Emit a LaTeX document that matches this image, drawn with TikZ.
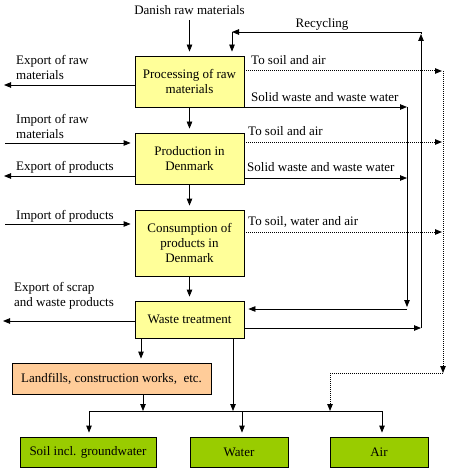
\documentclass[tikz,border=0pt]{standalone}
\usepackage{fontspec}
\setmainfont{Liberation Serif}
\usetikzlibrary{arrows.meta}
\definecolor{boxyellow}{RGB}{255,255,153}
\definecolor{boxpeach}{RGB}{255,204,153}
\definecolor{boxgreen}{RGB}{153,204,0}
\begin{document}
\begin{tikzpicture}[x=1pt,y=-1pt,
  every node/.style={font=\fontsize{13}{15}\selectfont, inner sep=0pt},
  ln/.style={line width=0.8pt},
  box/.style={draw, line width=0.8pt, align=center},
  ybox/.style={box, fill=boxyellow, minimum width=109pt},
  lbl/.style={anchor=west, align=left},
  arr/.style={ln, -{Triangle[length=7pt,width=5.5pt]}, shorten >=4pt},
  arrl/.style={ln, -{Triangle[length=7pt,width=5.5pt]}},
  dots/.style={line width=1pt, dash pattern=on 1pt off 1pt},
  darr/.style={dots, -{Triangle[length=7pt,width=5.5pt]}}
]
\useasboundingbox (0,0) rectangle (449,468);
% main boxes
\node[ybox, minimum height=51pt] (proc) at (189.5,81.5) {Processing of raw\\materials};
\node[ybox, minimum height=51pt] (prod) at (189.5,158.5) {Production in\\Denmark};
\node[ybox, minimum height=66pt] (cons) at (189.5,243) {Consumption of\\products in\\Denmark};
\node[ybox, minimum height=37pt] (wt) at (189.5,319.5) {Waste treatment};
\node[box, fill=boxpeach, minimum width=199pt, minimum height=31pt] (land) at (111.5,378.5) {Landfills, construction works,~~etc.};
\node[box, fill=boxgreen, minimum width=136pt, minimum height=30pt] (soil) at (88,452) {Soil incl. groundwater};
\node[box, fill=boxgreen, minimum width=98pt, minimum height=30pt] (water) at (239,452) {Water};
\node[box, fill=boxgreen, minimum width=98pt, minimum height=30pt] (air) at (379,452) {Air};
% labels
\node (dan) at (189.5,10) {Danish raw materials};
\node[lbl] (lexr) at (16,67) {Export of raw\\materials};
\node[lbl] (limr) at (16,126) {Import of raw\\materials};
\node[lbl] (lexp) at (16,167) {Export of products};
\node[lbl] (limp) at (16,216) {Import of products};
\node[lbl] (lexs) at (14,296) {Export of scrap\\and waste products};
\node (lrec) at (322,24) {Recycling};
\node[lbl] (lsa1) at (251,60) {To soil and air};
\node[lbl] (lsw1) at (251,97) {Solid waste and waste water};
\node[lbl] (lsa2) at (248,131) {To soil and air};
\node[lbl] (lsw2) at (247,167) {Solid waste and waste water};
\node[lbl] (lswa) at (248,222) {To soil, water and air};
% vertical main flow
\coordinate (dtop) at (189.5,20);
\draw[arr] (dtop) -- (proc);
\draw[arr] (proc) -- (prod);
\draw[arr] (prod) -- (cons);
\draw[arr] (cons) -- (wt);
% left side
\coordinate (e1) at (4,85);
\coordinate (i1) at (5,143);
\coordinate (e2) at (4,176);
\coordinate (i2) at (5,224);
\coordinate (e3) at (3,321);
\draw[arrl] (proc.west |- e1) -- (e1);
\draw[arr] (i1) -- (prod.west |- i1);
\draw[arrl] (prod.west |- e2) -- (e2);
\draw[arr] (i2) -- (cons.west |- i2);
\draw[arrl] (wt.west |- e3) -- (e3);
% dotted emissions
\coordinate (d1) at (442,71);
\coordinate (d2) at (442,142);
\coordinate (d3) at (442,232);
\coordinate (dc) at (443,373);
\coordinate (dd) at (330,373);
\draw[darr] (proc.east |- d1) -- (d1);
\draw[darr] (prod.east |- d2) -- (d2);
\draw[darr] (cons.east |- d3) -- (d3);
\draw[darr] (443,71) -- (dc);
% solid waste
\coordinate (s1) at (407,107);
\coordinate (s2) at (407,178);
\coordinate (s3) at (407,307);
\coordinate (s4) at (407,309);
\draw[arrl] (proc.east |- s1) -- (s1);
\draw[arrl] (prod.east |- s2) -- (s2);
\draw[arrl] (s1) -- (s3);
\draw[arr] (s4) -- (wt.east |- s4);
% recycling
\coordinate (r1) at (421,328);
\coordinate (r2) at (421,32);
\coordinate (r3) at (232,32);
\draw[arrl] (wt.east |- r1) -- (r1);
\draw[arrl] (r1) -- (421,34);
\draw[ln] (421,34) -- (r2);
\draw[arrl] (r2) -- (r3);
\draw[arr] (r3) -- (proc.north -| r3);
% bottom bus
\coordinate (b1) at (89,411);
\coordinate (b2) at (242,411);
\coordinate (b3) at (382,411);
\draw[ln] (b1) -- (b3);
\draw[arr] (wt.south -| 141,0) -- (land.north -| 141,0);
\draw[arrl] (land.south -| 143,0) -- (143,411);
\draw[arrl] (wt.south -| 233,0) -- (233,411);
\draw[dots] (dc) -- (dd);
\draw[darr] (dd) -- (330,411);
\draw[arr] (b1) -- (soil.north -| b1);
\draw[arr] (b2) -- (water.north -| b2);
\draw[arr] (b3) -- (air.north -| b3);
\end{tikzpicture}
\end{document}
